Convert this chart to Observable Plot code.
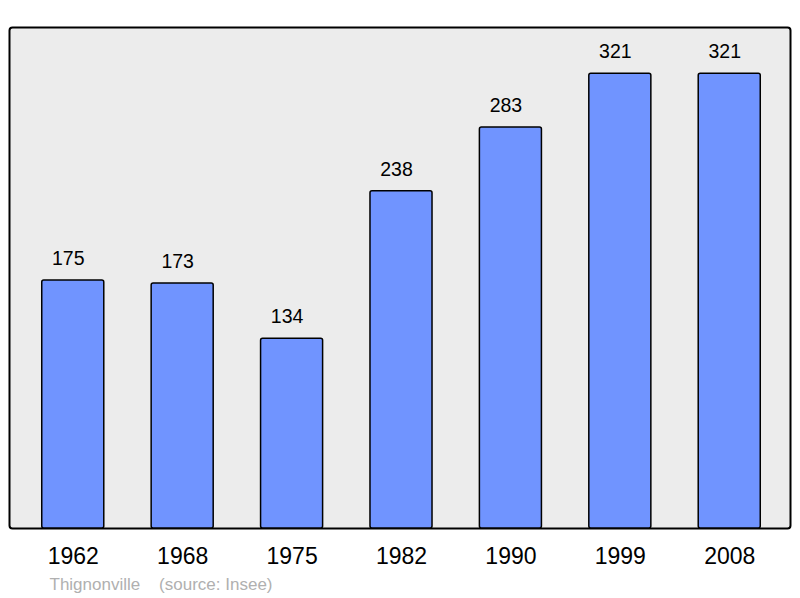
<!DOCTYPE html>
<html>
<head>
<meta charset="utf-8">
<script src="https://cdn.jsdelivr.net/npm/d3@7"></script>
<script src="https://cdn.jsdelivr.net/npm/@observablehq/plot@0.6"></script>
<style>
  html, body { margin: 0; padding: 0; background: #fff; }
  svg { display: block; }
</style>
</head>
<body>
<div id="chart"></div>
<script>
const years = ["1962", "1968", "1975", "1982", "1990", "1999", "2008"];
const population = [175, 173, 134, 238, 283, 321, 321];
const caption = "Thignonville    (source: Insee)";

const data = years.map((year, i) => ({year, value: population[i]}));

const chart = Plot.plot({
  width: 800,
  height: 598,
  marginLeft: 9,
  marginRight: 10,
  marginTop: 27,
  marginBottom: 70,
  style: {fontFamily: "'Liberation Sans', Arial, sans-serif", background: "#fff"},
  x: {domain: years, range: [18, 784], paddingInner: 0.433, paddingOuter: 0.217, round: false, label: null},
  y: {domain: [0, 353.6], nice: false, axis: null},
  marks: [
    Plot.frame({fill: "#ececec", stroke: "#000", strokeWidth: 2, rx: 3}),
    Plot.barY(data, {x: "year", y: "value", fill: "#7094ff", stroke: "#000", strokeWidth: 1.5, rx: 2}),
    Plot.text(data, {x: "year", y: "value", text: d => String(d.value), dx: -5, dy: -22, fontSize: 19.5, fill: "#000"}),
    Plot.axisX({tickSize: 0, tickPadding: 19, fontSize: 23, fill: "#000", label: null}),
    Plot.text([caption], {frameAnchor: "bottom-left", dx: 40, dy: 61, textAnchor: "start", fontSize: 17, fill: "#b0b0b0"})
  ]
});
document.getElementById("chart").appendChild(chart);
</script>
</body>
</html>
